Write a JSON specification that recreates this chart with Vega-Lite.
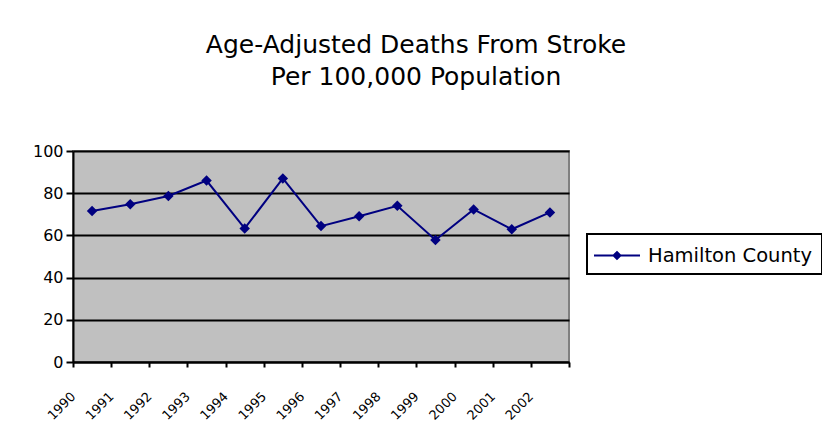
{
  "$schema": "https://vega.github.io/schema/vega-lite/v6.json",
  "autosize": "none",
  "padding": {"left": 73, "top": 151, "right": 253, "bottom": 83},
  "width": 496,
  "height": 211,
  "background": "white",
  "title": {
    "text": ["Age-Adjusted Deaths From Stroke", "Per 100,000 Population"],
    "anchor": "middle",
    "dx": 95,
    "font": "DejaVu Sans",
    "fontSize": 25,
    "fontWeight": "normal",
    "color": "black",
    "lineHeight": 32,
    "offset": 53
  },
  "data": {
    "values": [
      {"year": 1990, "value": 71.6, "series": "Hamilton County"},
      {"year": 1991, "value": 74.8, "series": "Hamilton County"},
      {"year": 1992, "value": 78.7, "series": "Hamilton County"},
      {"year": 1993, "value": 86.0, "series": "Hamilton County"},
      {"year": 1994, "value": 63.3, "series": "Hamilton County"},
      {"year": 1995, "value": 87.0, "series": "Hamilton County"},
      {"year": 1996, "value": 64.4, "series": "Hamilton County"},
      {"year": 1997, "value": 69.1, "series": "Hamilton County"},
      {"year": 1998, "value": 74.0, "series": "Hamilton County"},
      {"year": 1999, "value": 57.8, "series": "Hamilton County"},
      {"year": 2000, "value": 72.3, "series": "Hamilton County"},
      {"year": 2001, "value": 62.9, "series": "Hamilton County"},
      {"year": 2002, "value": 70.9, "series": "Hamilton County"}
    ]
  },
  "encoding": {
    "x": {
      "field": "year",
      "type": "quantitative",
      "scale": {"domain": [1989.5, 2002.5], "nice": false, "zero": false},
      "axis": {
        "title": null,
        "grid": false,
        "values": [1989.5, 1990.5, 1991.5, 1992.5, 1993.5, 1994.5, 1995.5, 1996.5, 1997.5, 1998.5, 1999.5, 2000.5, 2001.5, 2002.5],
        "labelExpr": "datum.value > 2002 ? '' : format(datum.value + 0.5, 'd')",
        "labelAngle": -45,
        "labelAlign": "right",
        "labelBaseline": "middle",
        "labelPadding": 27,
        "labelFont": "DejaVu Sans",
        "labelFontSize": 13,
        "labelColor": "black",
        "labelOverlap": false,
        "labelFlush": false,
        "domainColor": "black",
        "domainWidth": 2,
        "tickColor": "black",
        "tickWidth": 2,
        "tickSize": 5
      }
    },
    "y": {
      "field": "value",
      "type": "quantitative",
      "scale": {"domain": [0, 100], "nice": false},
      "axis": {
        "title": null,
        "values": [0, 20, 40, 60, 80, 100],
        "labelFont": "DejaVu Sans",
        "labelFontSize": 16,
        "labelColor": "black",
        "labelPadding": 3,
        "domainColor": "black",
        "domainWidth": 2,
        "tickColor": "black",
        "tickWidth": 2,
        "tickSize": 7,
        "grid": true,
        "gridColor": "black",
        "gridWidth": 2,
        "gridOpacity": 1,
        "encode": {"grid": {"update": {"strokeWidth": {"signal": "datum.value === 40 ? 1 : 2"}}}}
      }
    },
    "color": {
      "field": "series",
      "type": "nominal",
      "scale": {"range": ["#000080"]},
      "legend": {
        "title": null,
        "orient": "none",
        "legendX": 514,
        "legendY": 83,
        "padding": 9,
        "strokeColor": "black",
        "symbolType": "M-2,0H2M-0.3,0L0,-0.3L0.3,0L0,0.3Z",
        "symbolSize": 529,
        "symbolOffset": 8.5,
        "symbolStrokeWidth": 2,
        "symbolStrokeColor": "#000080",
        "symbolFillColor": "#000080",
        "symbolOpacity": 1,
        "labelFont": "DejaVu Sans",
        "labelFontSize": 19.5,
        "labelColor": "black",
        "labelLimit": 300,
        "labelOffset": 18.5,
        "encode": {"legend": {"update": {"strokeWidth": {"value": 2}}}}
      }
    }
  },
  "layer": [
    {"mark": {"type": "line", "strokeWidth": 2}},
    {"mark": {"type": "point", "shape": "diamond", "filled": true, "size": 110, "opacity": 1}}
  ],
  "config": {
    "view": {"fill": "#C0C0C0", "stroke": "#808080", "strokeWidth": 2}
  }
}
